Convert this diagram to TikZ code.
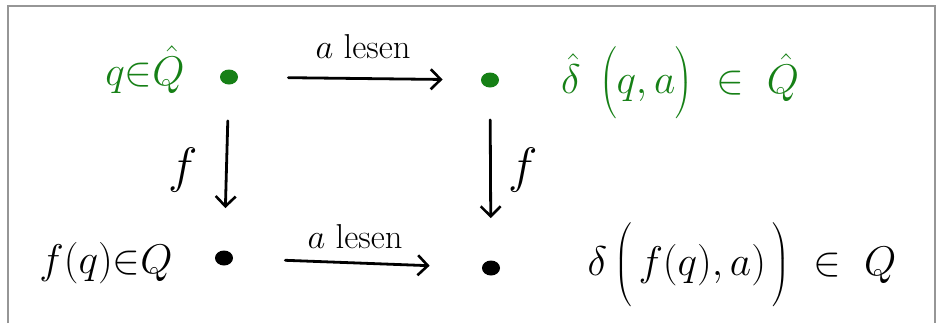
\documentclass[tikz,border=0pt]{standalone}
\usetikzlibrary{arrows.meta,shapes.geometric}
\definecolor{pen}{RGB}{22,128,22}
\definecolor{framegray}{RGB}{150,150,150}
\tikzset{
  dot/.style={ellipse,fill,inner sep=0pt,minimum width=9pt,minimum height=7.5pt},
  lbl/.style={inner sep=0pt,anchor=base},
  arr/.style={line width=1.4pt,line cap=round,-{Straight Barb[length=5pt,width=10pt,line width=1.3pt]}},
}
\begin{document}
\begin{tikzpicture}[x=0.5pt,y=-0.5pt]
\useasboundingbox (0,0) rectangle (938,323);
% frame
\draw[framegray,line width=1pt] (8,323) -- (8,6) -- (935,6) -- (935,323);
% dots
\node[dot,pen] (tl) at (229,77) {};
\node[dot,pen] (tr) at (490,80) {};
\node[dot] (bl) at (224,258) {};
\node[dot] (br) at (491,268) {};
% texts
\node[lbl,pen] (t1) at (145,85) {\huge $q{\in}\hat{Q}$};
\node[lbl,pen] (t2) at (680,93) {\huge $\hat{\delta}\;\left(\vrule height 22pt depth 9pt width 0pt q,a\right)\;\in\;\hat{Q}$};
\node[lbl] (t3) at (106,273) {\huge $f(q){\in}Q$};
\node[lbl] (t4) at (742,275) {\huge $\delta\left(\vrule height 26pt depth 16pt width 0pt\,f(q),a)\,\right)\;\in\;Q$};
% arrows
\draw[arr,shorten <=25pt,shorten >=19pt] (tl) -- (tr);
\draw[arr,shorten <=18pt,shorten >=21pt] (tl) -- (bl);
\draw[arr,shorten <=16pt,shorten >=21pt] (tr) -- (br);
\draw[arr,shorten <=26pt,shorten >=26pt] (bl) -- (br);
% labels
\node (f1) at (183,170) {\Huge $f$};
\node (f2) at (523,170) {\Huge $f$};
\node[lbl] (l1) at (363,58) {\LARGE $a$ lesen};
\node[lbl] (l2) at (355,248) {\LARGE $a$ lesen};
\end{tikzpicture}
\end{document}
